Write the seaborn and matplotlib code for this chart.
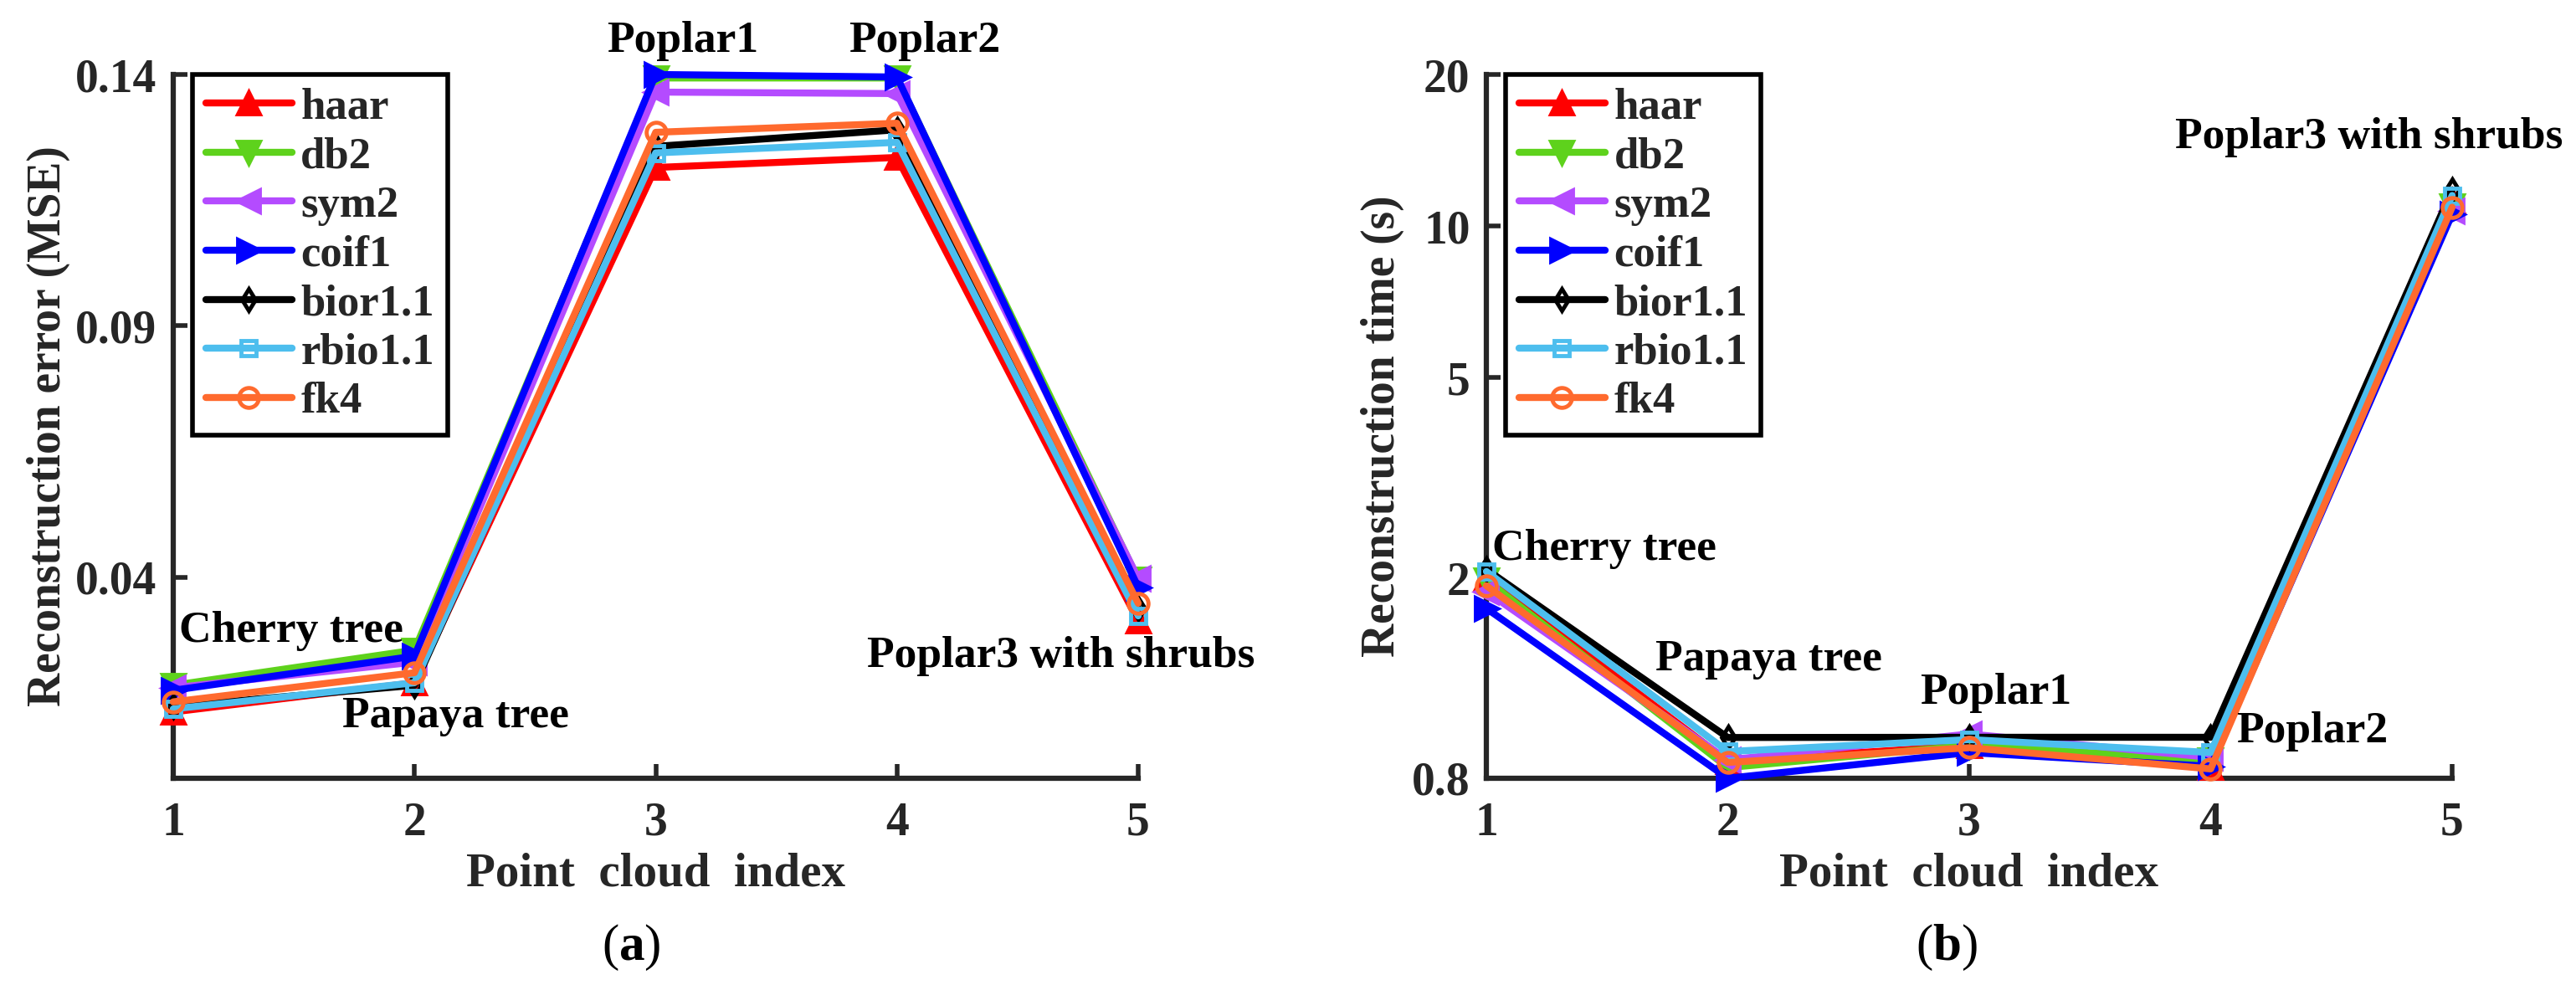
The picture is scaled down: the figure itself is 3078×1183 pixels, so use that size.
import numpy as np
import pandas as pd
import matplotlib
matplotlib.use("Agg")
import matplotlib.pyplot as plt
import seaborn as sns
from matplotlib.lines import Line2D

# ---------------- data ----------------
point_index = [1, 2, 3, 4, 5]
wavelets = ["haar", "db2", "sym2", "coif1", "bior1.1", "rbio1.1", "fk4"]

mse_haar = [0.0132, 0.0190, 0.1215, 0.1235, 0.0313]
mse_db2 = [0.0185, 0.0255, 0.1393, 0.1393, 0.0396]
mse_sym2 = [0.0180, 0.0231, 0.1365, 0.1362, 0.0398]
mse_coif1 = [0.0175, 0.0243, 0.1400, 0.1395, 0.0380]
mse_bior = [0.0143, 0.0185, 0.1257, 0.1290, 0.0338]
mse_rbio = [0.0138, 0.0190, 0.1244, 0.1265, 0.0323]
mse_fk4 = [0.0152, 0.0210, 0.1285, 0.1303, 0.0348]

time_haar = [2.00, 0.865, 0.93, 0.84, 11.2]
time_db2 = [1.98, 0.84, 0.93, 0.87, 10.95]
time_sym2 = [1.88, 0.87, 0.98, 0.88, 10.7]
time_coif1 = [1.74, 0.80, 0.90, 0.845, 10.55]
time_bior = [2.08, 0.964, 0.965, 0.965, 11.8]
time_rbio = [2.06, 0.904, 0.955, 0.90, 11.5]
time_fk4 = [1.93, 0.86, 0.92, 0.835, 10.9]

mse_series = [mse_haar, mse_db2, mse_sym2, mse_coif1, mse_bior, mse_rbio, mse_fk4]
time_series = [time_haar, time_db2, time_sym2, time_coif1, time_bior, time_rbio, time_fk4]

mse_ticks = [0.04, 0.09, 0.14]
mse_ticklabels = ["0.04", "0.09", "0.14"]
time_ticks = [0.8, 2, 5, 10, 20]
time_ticklabels = ["0.8", "2", "5", "10", "20"]

mse_notes = [("Cherry tree", 1.49, 0.0293), ("Papaya tree", 2.17, 0.0123),
             ("Poplar1", 3.11, 0.1466), ("Poplar2", 4.115, 0.1466),
             ("Poplar3 with shrubs", 4.68, 0.0243)]
time_notes = [("Cherry tree", 1.49, 2.28), ("Papaya tree", 2.17, 1.38),
              ("Poplar1", 3.11, 1.18), ("Poplar2", 4.42, 0.993),
              ("Poplar3 with shrubs", 4.655, 15.0)]

# ---------------- style ----------------
colors = ["#FF0000", "#5ED21C", "#B44BFF", "#0000FF", "#000000", "#4DBEEE", "#FF6A2E"]
markers = ["^", "v", "<", ">", "d", "s", "o"]
filled = [True, True, True, True, False, False, False]
msizes = [19, 19, 19, 19, 13, 13, 17]

sns.set_theme(style="white")
plt.rcParams["font.family"] = ["Liberation Serif", "DejaVu Serif"]
plt.rcParams["font.weight"] = "bold"
plt.rcParams["mathtext.fontset"] = "custom"
plt.rcParams["mathtext.rm"] = "Liberation Serif"
plt.rcParams["mathtext.bf"] = "Liberation Serif:bold"

W, H = 3078, 1183
fig = plt.figure(figsize=(W / 100, H / 100), dpi=100)
axA = fig.add_axes([207 / W, 1 - 930 / H, (1360 - 207) / W, (930 - 89) / H])
axB = fig.add_axes([1776 / W, 1 - 930 / H, (2930 - 1776) / W, (930 - 89) / H])

axis_color = "#262626"
LW = 6
NOTE_FS = 38.5


def draw(ax, series):
    for vals, c, m, f, ms in zip(series, colors, markers, filled, msizes):
        sns.lineplot(x=point_index, y=vals, ax=ax, color=c, linewidth=LW,
                     marker=m, markersize=ms, markeredgewidth=3.5,
                     markeredgecolor=c, markerfacecolor=(c if f else "none"),
                     clip_on=False, legend=False, zorder=3)


def style(ax):
    sns.despine(ax=ax)
    for s in ["left", "bottom"]:
        ax.spines[s].set_color(axis_color)
        ax.spines[s].set_linewidth(4.5)
    ax.set_xlim(1, 5)
    ax.set_xticks(point_index)
    ax.set_xticklabels([str(p) for p in point_index])
    ax.tick_params(axis="both", which="major", direction="in", length=12,
                   width=4, color=axis_color, labelsize=40, labelcolor=axis_color,
                   left=True, bottom=True)
    ax.tick_params(axis="x", pad=20)
    ax.tick_params(axis="y", pad=14)
    ax.tick_params(axis="y", which="minor", left=False)
    for lab in ax.get_xticklabels() + ax.get_yticklabels():
        lab.set_fontweight("bold")
    ax.set_xlabel("Point  cloud  index", fontsize=41, fontweight="bold",
                  color=axis_color)
    ax.xaxis.set_label_coords(0.5, -0.105)
    handles = [Line2D([0], [0], color=c, lw=LW, marker=m, markersize=ms,
                      markeredgewidth=3.5, markeredgecolor=c,
                      markerfacecolor=(c if f else "none"))
               for c, m, f, ms in zip(colors, markers, filled, msizes)]
    leg = ax.legend(handles, wavelets, loc="upper left", bbox_to_anchor=(0.02, 1.0),
                    borderaxespad=0, frameon=True, fancybox=False,
                    edgecolor="black", prop={"size": 38, "weight": "bold"},
                    handlelength=1.95, handletextpad=0.2, labelspacing=0.2,
                    borderpad=0.3, framealpha=1)
    leg.get_frame().set_linewidth(4)


# panel (a)
draw(axA, mse_series)
style(axA)
axA.set_ylim(0, 0.14)
axA.set_yticks(mse_ticks)
axA.set_yticklabels(mse_ticklabels, fontweight="bold")
axA.set_ylabel("Reconstruction error (MSE)", fontsize=40, fontweight="bold",
               color=axis_color)
axA.yaxis.set_label_coords(-0.107, 0.5)
for t, x, y in mse_notes:
    axA.text(x, y, t, ha="center", va="center", fontsize=NOTE_FS, fontweight="bold",
             color="black", zorder=5)

# panel (b)
draw(axB, time_series)
axB.set_yscale("log")
style(axB)
axB.set_ylim(0.8, 20)
axB.set_yticks(time_ticks)
axB.set_yticklabels(time_ticklabels, fontweight="bold")
axB.yaxis.set_minor_locator(matplotlib.ticker.NullLocator())
axB.set_ylabel("Reconstruction time (s)", fontsize=40, fontweight="bold",
               color=axis_color)
axB.yaxis.set_label_coords(-0.085, 0.5)
for t, x, y in time_notes:
    axB.text(x, y, t, ha="center", va="center", fontsize=NOTE_FS, fontweight="bold",
             color="black", zorder=5)

fig.text(754 / W, 1 - 1132 / H, r"($\mathbf{a}$)", ha="center", va="center",
         fontsize=44, fontweight="normal", color="black")
fig.text(2326 / W, 1 - 1132 / H, r"($\mathbf{b}$)", ha="center", va="center",
         fontsize=44, fontweight="normal", color="black")

fig.savefig("out.png", dpi=100)
